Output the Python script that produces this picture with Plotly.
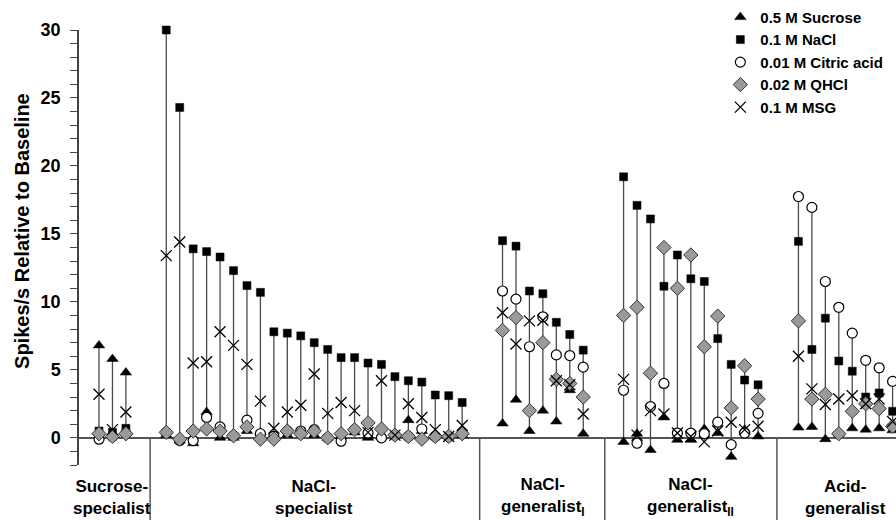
import plotly.graph_objects as go

# ---- categories ----
group_labels = ["Sucrose-<br>specialist", "NaCl-<br>specialist",
                "NaCl-<br>generalist<sub>I</sub>", "NaCl-<br>generalist<sub>II</sub>",
                "Acid-<br>generalist"]
group_sizes = [3, 23, 7, 11, 8]

series_names = ["0.5 M Sucrose", "0.1 M NaCl", "0.01 M Citric acid", "0.02 M QHCl", "0.1 M MSG"]
y_title = "Spikes/s Relative to Baseline"

# ---- series values (spikes/s relative to baseline), one per neuron ----
sucrose = [6.8, 5.8, 4.8,
           0.2, -0.2, -0.4, 1.9, 0.0, 0.0, 0.5, 0.4, 0.0, 0.2, 0.5, 0.2,
           0.0, 0.1, 0.4, 0.0, 0.1, 0.2, 1.3, 0.5, 0.1, 0.1, 0.2,
           1.05, 2.8, 0.5, 2.0, 1.2, 3.5, 0.3,
           -0.3, 0.3, -0.9, 1.5, -0.15, -0.15, 0.65, 0.35, -1.4, 0.6, 0.1,
           0.75, 0.8, -0.1, 0.3, 0.7, 0.6, 0.7, 0.55]
nacl = [0.5, 0.4, 0.7,
        30.0, 24.3, 13.9, 13.7, 13.3, 12.3, 11.2, 10.7, 7.8, 7.7, 7.5, 7.0,
        6.5, 5.9, 5.9, 5.5, 5.4, 4.5, 4.2, 4.1, 3.15, 3.1, 2.6,
        14.5, 14.1, 10.8, 10.6, 8.5, 7.6, 6.45,
        19.2, 17.1, 16.1, 11.15, 13.45, 11.7, 11.5, 7.3, 5.4, 4.25, 3.9,
        14.45, 6.5, 8.8, 5.65, 4.9, 3.0, 3.3, 1.95]
citric = [-0.1, 0.1, 0.3,
          0.4, -0.2, -0.2, 1.5, 0.8, 0.15, 1.3, 0.3, 0.1, 0.5, 0.5, 0.6,
          0.0, -0.25, 0.6, 0.35, 0.0, 0.2, 0.1, 0.65, 0.1, 0.1, 0.3,
          10.8, 10.2, 6.7, 8.9, 6.1, 6.05, 5.2,
          3.5, -0.4, 2.3, 4.0, 0.35, 0.35, 0.3, 1.15, -0.5, 0.35, 1.8,
          17.75, 16.95, 11.5, 9.6, 7.7, 5.7, 5.15, 4.15]
qhcl = [0.3, 0.1, 0.3,
        0.4, -0.1, 0.5, 0.65, 0.5, 0.15, 0.8, -0.1, -0.1, 0.5, 0.3, 0.5,
        0.0, 0.3, 0.6, 1.1, 0.65, 0.2, 0.1, -0.1, 0.1, 0.1, 0.3,
        7.9, 8.85, 2.0, 7.0, 4.3, 4.0, 3.0,
        9.0, 9.6, 4.75, 14.0, 11.0, 13.45, 6.7, 8.95, 2.2, 5.3, 2.85,
        8.6, 2.85, 3.2, 0.3, 1.95, 2.5, 2.15, 0.85]
msg = [3.2, 0.6, 1.9,
       13.4, 14.4, 5.5, 5.6, 7.8, 6.8, 5.4, 2.7, 0.7, 1.9, 2.4, 4.7,
       1.8, 2.6, 2.0, 0.4, 4.2, 0.2, 2.5, 1.5, 0.6, 0.1, 0.9,
       9.2, 6.9, 8.6, 8.65, 4.2, 3.9, 1.75,
       4.3, 0.2, 2.0, 1.75, 0.35, 0.1, -0.3, 0.5, 1.15, 0.6, 0.85,
       6.0, 3.6, 2.45, 2.85, 3.1, 2.5, 2.85, 1.2]

y_tick_vals = [0, 5, 10, 15, 20, 25, 30]

# ---- neuron positions on a numeric x axis (gap between groups) ----
GAP = 3
sep_nudge = [0.3, -0.2, 0.1, -0.1]   # small visual offsets of the group dividers
xpos, group_centers, separators = [], [], []
cur = 1
for gi, n in enumerate(group_sizes):
    xs = list(range(cur, cur + n))
    xpos.extend(xs)
    group_centers.append((xs[0] + xs[-1]) / 2)
    cur = xs[-1] + GAP
    if gi < len(group_sizes) - 1:
        separators.append(xs[-1] + GAP / 2 + sep_nudge[gi])

all_series = [sucrose, nacl, citric, qhcl, msg]

# stems from min to max response of each neuron
stem_x, stem_y = [], []
for i, x in enumerate(xpos):
    vals = [s[i] for s in all_series]
    stem_x += [x, x, None]
    stem_y += [min(vals), max(vals), None]

FONT = "Liberation Sans, Arial, Helvetica, sans-serif"
fig = go.Figure()
fig.add_trace(go.Scatter(x=stem_x, y=stem_y, mode="lines",
                         line=dict(color="#4a4a4a", width=1.3),
                         hoverinfo="skip", showlegend=False))

styles = [
    dict(symbol="triangle-up", size=10, color="black", line=dict(color="black", width=0.5)),
    dict(symbol="square", size=8, color="black", line=dict(color="black", width=0.5)),
    dict(symbol="circle", size=10, color="white", line=dict(color="black", width=1.2)),
    dict(symbol="diamond", size=11, color="#9a9a9a", line=dict(color="#333333", width=1)),
    dict(symbol="x-thin-open", size=11, color="black", line=dict(color="black", width=1.3)),
]
for name, vals, st in zip(series_names, all_series, styles):
    fig.add_trace(go.Scatter(x=xpos, y=vals, mode="markers", name=name,
                             marker=st, legendgroup=name, cliponaxis=False))

# plot geometry
x_left = 1 - 20 / 13.45
x_right = xpos[-1] + (896 - 892.6) / 13.45
y_min, y_max = -2, 30
zero_paper = (0 - y_min) / (y_max - y_min)

shapes = []
for sx in separators:
    shapes.append(dict(type="line", xref="x", yref="paper", x0=sx, x1=sx,
                       y0=zero_paper, y1=-0.14, line=dict(color="#555555", width=1.5)))

annotations = []
for lab, cx in zip(group_labels, group_centers):
    annotations.append(dict(x=cx, xref="x", y=-0.0747, yref="paper", text=lab,
                            showarrow=False, yanchor="middle", xanchor="center",
                            font=dict(family=FONT, size=17, color="black", weight="bold")))
annotations.append(dict(x=-0.0698, xref="paper", y=0.538, yref="paper", text=y_title,
                        textangle=-90, showarrow=False, xanchor="center", yanchor="middle",
                        font=dict(family=FONT, size=20, color="black", weight="bold")))

fig.update_layout(
    width=896, height=520,
    margin=dict(l=79, r=0, t=30, b=55, autoexpand=False),
    paper_bgcolor="white", plot_bgcolor="white",
    font=dict(family=FONT, color="black", weight="bold"),
    showlegend=True,
    legend=dict(x=0.785, xanchor="left", y=1.067, yanchor="top",
                font=dict(family=FONT, size=15, color="black", weight="bold"),
                bgcolor="rgba(0,0,0,0)", tracegroupgap=0, itemsizing="trace"),
    xaxis=dict(range=[x_left, x_right], visible=False, showgrid=False, zeroline=False),
    yaxis=dict(range=[y_min, y_max], tickvals=y_tick_vals,
               ticktext=[str(v) for v in y_tick_vals],
               ticks="outside", ticklen=7, tickwidth=1.3, tickcolor="#444444",
               minor=dict(dtick=1, ticks="outside", ticklen=7, tickwidth=1.3, tickcolor="#444444"),
               showline=True, linecolor="#444444", linewidth=1.5,
               showgrid=False, zeroline=True, zerolinecolor="#555555", zerolinewidth=1.5,
               ticklabelstandoff=6,
               tickfont=dict(family=FONT, size=18, color="black", weight="bold")),
    shapes=shapes, annotations=annotations,
)

fig.write_html("out.html", config={"displayModeBar": False},
               post_script="document.body.style.margin='0';")
